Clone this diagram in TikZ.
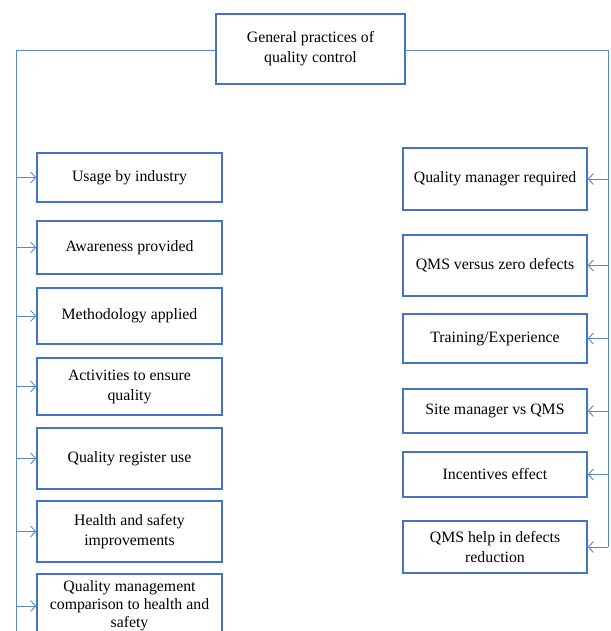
\documentclass[tikz,border=0pt]{standalone}
\usepackage{fontspec}
\setmainfont{Liberation Serif}
\usetikzlibrary{positioning}
\usetikzlibrary{arrows.meta}

\definecolor{boxblue}{RGB}{68,114,196}
\definecolor{lineblue}{RGB}{91,135,205}

\tikzset{
  qbox/.style={draw=boxblue, line width=1.6pt, fill=white, align=center,
    inner sep=2pt, font=\fontsize{15.8}{20}\selectfont},
  conn/.style={draw=lineblue, line width=0.9pt},
  arr/.style={conn, -{Straight Barb[length=5pt,width=11pt]}},
}

\begin{document}
\begin{tikzpicture}[x=1pt,y=-1pt]
        \useasboundingbox (0,0) rectangle (610,631);

        % Define the coordinates of the bus lines
        \coordinate (lt) at (16,50);
        \coordinate (rt) at (608,50);
        \coordinate (lb) at (16,640);

        % Top box
        \node[qbox, minimum width=189pt, minimum height=70pt] (top) at (310.5,49)
          {General practices of\\quality control};

        % Left column
        \foreach \name/\y/\h/\txt in {
            l1/177.5/49/{Usage by industry},
            l2/247.5/53/{Awareness provided},
            l3/316/56/{Methodology applied},
            l4/386.5/57/{Activities to ensure\\quality},
            l5/458.5/61/{Quality register use},
            l6/531.5/61/{Health and safety\\improvements}}
          \node[qbox, minimum width=185pt, minimum height=\h pt] (\name) at (129.5,\y) {\txt};
        \node[qbox, font=\fontsize{15.8}{18}\selectfont, minimum width=185pt,
          minimum height=64pt] (l7) at (129.5,606)
          {Quality management\\comparison to health and\\safety};

        % Right column
        \foreach \name/\y/\h/\txt in {
            r1/179/62/{Quality manager required},
            r2/265.5/61/{QMS versus zero defects},
            r3/338.5/49/{Training/Experience},
            r4/411/44/{Site manager vs QMS},
            r5/474.5/45/{Incentives effect},
            r6/547/52/{QMS help in defects\\reduction}}
          \node[qbox, minimum width=184pt, minimum height=\h pt] (\name) at (495,\y) {\txt};

        % Draw the lines
        \draw[conn] (top.west |- lt) -- (lt) -- (lb);
        \draw[conn] (top.east |- rt) -- (rt) -- (rt |- r6);

        \foreach \point in {l1,l2,l3,l4,l5,l6,l7}
          \draw[arr] (lt |- \point) -- (\point.west);
        \foreach \point in {r1,r2,r3,r4,r5,r6}
          \draw[arr] (rt |- \point) -- (\point.east);
     \end{tikzpicture}
\end{document}
